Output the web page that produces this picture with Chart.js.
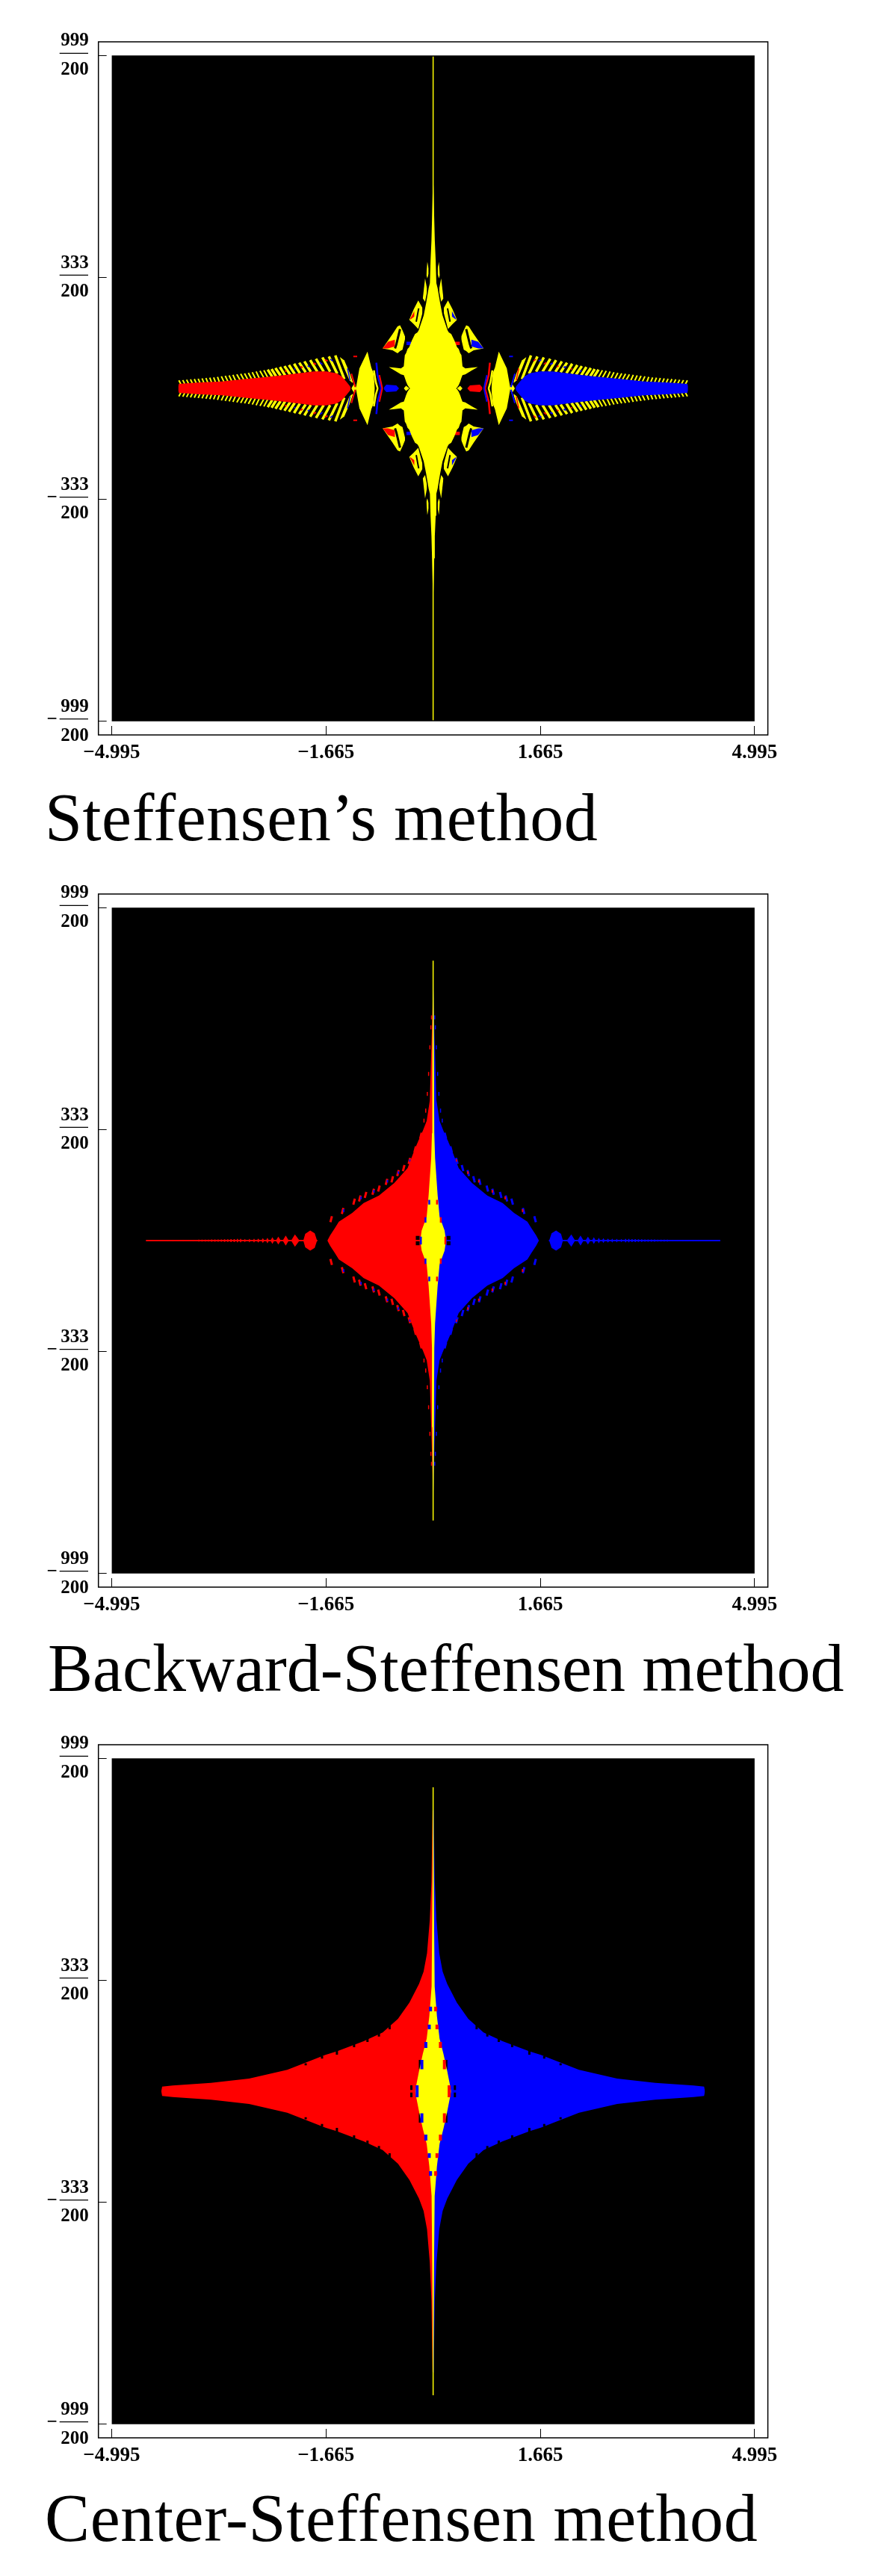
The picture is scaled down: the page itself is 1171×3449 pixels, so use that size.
<!DOCTYPE html>
<html>
<head>
<meta charset="utf-8">
<title>Steffensen basins</title>
<script src="https://cdn.jsdelivr.net/npm/chart.js@4"></script>
<style>
  html, body { margin: 0; background: #fff; }
  #page { position: relative; width: 1171px; height: 3449px; overflow: hidden; }
  canvas { position: absolute; left: 0; }
</style>
</head>
<body>
<div id="page"></div>
<script>
const red = "#ff0000";
const blue = "#0000ff";
const yellow = "#ffff00";
const black = "#000000";

const panelTitles = ["Steffensen’s method", "Backward-Steffensen method", "Center-Steffensen method"];
const xTickValues = [-4.995, -1.665, 1.665, 4.995];
const xTickLabels = ["−4.995", "−1.665", "1.665", "4.995"];
const yTickValues = [4.995, 1.665, -1.665, -4.995];
const yTickTop = ["999", "333", "333", "999"];
const yTickBottom = ["200", "200", "200", "200"];
const yTickMinus = [false, false, true, true];

const plotX = [-4.995, 4.995];
const plotTop = [4.995, 4.995];
const plotBottom = [-4.995, -4.995];

// Steffensen: upper left quadrant, the other three are mirrored
const steffLineEnd = 4.98;
const steffTearX = [-3.96, -3.95, -3.67, -3.28, -2.9, -2.59, -2.32, -2.04, -1.85, -1.66, -1.5, -1.42, -1.35, -1.29, -1.28];
const steffTearTop = [0.03, 0.067, 0.086, 0.104, 0.142, 0.172, 0.198, 0.232, 0.254, 0.254, 0.228, 0.18, 0.104, 0.03, 0];

const fineOuterX = [-3.95, -3.89, -3.83, -3.77, -3.71, -3.65, -3.59, -3.53, -3.47, -3.41, -3.35, -3.29, -3.23, -3.17, -3.11, -3.05, -2.99, -2.93, -2.87, -2.81, -2.75, -2.69, -2.63];
const fineOuterY = [0.12, 0.125, 0.13, 0.135, 0.14, 0.145, 0.15, 0.155, 0.16, 0.165, 0.172, 0.18, 0.187, 0.195, 0.203, 0.21, 0.218, 0.225, 0.233, 0.243, 0.253, 0.263, 0.272];
const fineInnerX = [-3.92, -3.86, -3.8, -3.74, -3.68, -3.62, -3.56, -3.5, -3.44, -3.38, -3.32, -3.25, -3.19, -3.13, -3.07, -3.0, -2.94, -2.88, -2.82, -2.76, -2.7, -2.63, -2.57];
const fineInnerY = [0.065, 0.07, 0.072, 0.075, 0.078, 0.08, 0.082, 0.085, 0.088, 0.09, 0.095, 0.1, 0.108, 0.112, 0.118, 0.125, 0.13, 0.135, 0.14, 0.145, 0.15, 0.16, 0.165];
const coarseOuterX = [-2.57, -2.51, -2.45, -2.38, -2.31, -2.24, -2.16, -2.08, -2.0, -1.91, -1.82, -1.72, -1.62, -1.52];
const coarseOuterY = [0.282, 0.29, 0.305, 0.32, 0.335, 0.35, 0.37, 0.385, 0.405, 0.425, 0.445, 0.465, 0.48, 0.495];
const coarseInnerX = [-2.5, -2.44, -2.37, -2.3, -2.22, -2.15, -2.07, -1.98, -1.9, -1.8, -1.7, -1.6, -1.49, -1.38];
const coarseInnerY = [0.175, 0.18, 0.19, 0.195, 0.205, 0.215, 0.225, 0.24, 0.248, 0.25, 0.25, 0.25, 0.22, 0.14];
const speckX0 = [-2.3, -2.06, -1.86, -1.68, -1.24, -1.27, -0.99];
const speckY0 = [0.27, 0.33, 0.38, 0.43, 0.48, 0.22, 0.2];
const speckX1 = [-2.28, -2.03, -1.82, -1.64, -1.18, -1.21, -1.0];
const speckY1 = [0.25, 0.31, 0.36, 0.41, 0.48, 0.02, 0.02];
const speckBlueX0 = [-2.16, -1.95, -1.76, -1.6, -1.33];
const speckBlueY0 = [0.3, 0.34, 0.39, 0.44, 0.3];
const speckBlueX1 = [-2.14, -1.92, -1.72, -1.56, -1.29];
const speckBlueY1 = [0.28, 0.32, 0.36, 0.41, 0.12];

const steffBodyX = [-0.689, -0.6, -0.5, -0.456, -0.44, -0.42, -0.398, -0.371, -0.33, -0.282, -0.243, -0.224, -0.146, -0.108, -0.069, -0.05, -0.04, -0.026, -0.017, -0.005, 0];
const steffBodyTop = [0.318, 0.31, 0.3, 0.33, 0.5, 0.53, 0.59, 0.62, 0.72, 0.815, 0.84, 0.871, 1.095, 1.282, 1.506, 1.581, 1.91, 2.22, 2.55, 3.04, 3.1];
const steffBodyBottom = [0.318, 0.27, 0.21, 0.198, 0.16, 0.1, 0.05, 0.011, -0.02, -0.02, -0.02, -0.02, -0.02, -0.02, -0.02, -0.02, -0.02, -0.02, -0.02, -0.02, -0.02];

const crescentX = [-1.2, -1.145, -1.02, -0.96, -0.925, -0.905];
const crescentTop = [0, 0.3, 0.553, 0.31, 0.228, 0];
const slashX = [-1.45, -1.38, -1.3, -1.25];
const slashTop = [0.47, 0.42, 0.24, 0.1];
const slashBottom = [0.47, 0.3, 0.12, 0.08];
const lensX = [-1.27, -1.22, -1.19];
const lensTop = [0, 0.08, 0];
const nibBlueX = [-0.766, -0.727, -0.572, -0.53];
const nibBlueTop = [0.01, 0.055, 0.045, 0];
const nibYellowX = [-0.456, -0.42, -0.37];
const nibYellowTop = [0, 0.04, 0];

const arcBlueX = [-0.882, -0.863, -0.805];
const arcBlueY = [0.385, 0.198, 0];
const arcYellowX = [-0.92, -0.89, -0.862];
const arcYellowY = [0.27, 0.09, 0];
const arcRedX = [-0.835, -0.79];
const arcRedY = [0.2, 0];

const wingOneX = [-0.785, -0.63, -0.553, -0.514, -0.476, -0.437];
const wingOneTop = [0.6, 0.815, 0.93, 0.946, 0.87, 0.78];
const wingOneBottom = [0.6, 0.572, 0.527, 0.56, 0.58, 0.74];
const wingOneGapX = [-0.514, -0.57, -0.592];
const wingOneGapY = [0.89, 0.665, 0.6];
const wingOneRedX = [-0.785, -0.7, -0.592];
const wingOneRedTop = [0.6, 0.7, 0.73];
const wingOneRedBottom = [0.6, 0.6, 0.63];
const wingOneBlueX = [-0.417, -0.34];
const wingOneBlueTop = [0.7, 0.7];
const wingOneBlueBottom = [0.65, 0.65];

const wingTwoX = [-0.371, -0.301, -0.231, -0.166];
const wingTwoTop = [1.028, 1.189, 1.319, 1.207];
const wingTwoBottom = [1.028, 0.964, 0.89, 1.133];
const wingTwoGapX = [-0.224, -0.263];
const wingTwoGapY = [1.2, 1.0];
const wingTwoRedX = [-0.36, -0.29];
const wingTwoRedTop = [1.04, 1.163];
const wingTwoRedBottom = [1.028, 1.08];

const wingThreeX = [-0.16, -0.125, -0.095];
const wingThreeTop = [1.35, 1.65, 1.5];
const wingThreeBottom = [1.35, 1.3, 1.45];
const wingFourX = [-0.105, -0.09, -0.07];
const wingFourTop = [1.7, 1.9, 1.8];
const wingFourBottom = [1.7, 1.65, 1.72];

// Backward-Steffensen
const backLineEnd = 4.2;
const backRedX = [-1.643, -1.6, -1.524, -1.465, -1.257, -1.08, -0.842, -0.605, -0.397, -0.279, -0.16, -0.1, -0.052, -0.026, -0.009, 0];
const backRedTop = [0, 0.078, 0.19, 0.284, 0.415, 0.564, 0.676, 0.863, 1.087, 1.386, 1.648, 1.797, 2.1, 2.93, 3.5, 4.2];
const backYellowX = [-0.2, -0.178, -0.1, -0.07, -0.03, -0.018, -0.012, -0.006, 0];
const backYellowTop = [0, 0.15, 0.36, 0.68, 1.24, 1.61, 2.8, 3.6, 4.2];
const backBeadX = [-2.942, -2.924, -2.906, -2.871, -2.853, -2.835, -2.8, -2.782, -2.764, -2.74, -2.716, -2.693, -2.669, -2.645, -2.622, -2.598, -2.574, -2.55, -2.527, -2.497, -2.467, -2.444, -2.405, -2.366, -2.337, -2.29, -2.242, -2.206, -2.147, -2.076, -2.017, -1.987, -1.91, -1.84, -1.803];
const backBeadTop = [0, 0.026, 0, 0, 0.028, 0, 0, 0.03, 0, 0, 0.032, 0, 0, 0.036, 0, 0, 0.042, 0, 0, 0.05, 0, 0, 0.06, 0, 0, 0.075, 0, 0, 0.093, 0, 0, 0.1, 0.15, 0.11, 0];
const backTickX = [-2.99, -3.04, -3.09, -3.14, -3.19, -3.24, -3.29, -3.34, -3.39, -3.44, -3.49, -3.54, -3.59, -3.64, -3.72, -3.8, -3.88, -3.96, -4.04, -4.12];
const backTickY = [0.024, 0.024, 0.022, 0.022, 0.02, 0.02, 0.018, 0.018, 0.016, 0.016, 0.015, 0.015, 0.014, 0.014, 0.012, 0.012, 0.012, 0.012, 0.012, 0.012];
const backAxisX = [-4.46, -1.8];
const backAxisY = [0, 0];
const backEdgeX = [-1.584, -1.406, -1.228, -1.139, -1.05, -0.931, -0.842, -0.724, -0.635, -0.546, -0.457, -0.368, -0.279, -0.219, -0.19];
const backEdgeY = [0.321, 0.445, 0.583, 0.632, 0.684, 0.732, 0.781, 0.882, 0.919, 1.012, 1.087, 1.196, 1.368, 1.461, 1.573];
const backEdgeTipX = [-0.142, -0.115, -0.09, -0.07, -0.05, -0.035, -0.025];
const backEdgeTipY = [1.8, 1.95, 2.2, 2.5, 2.9, 3.2, 3.35];
const backEdgeDotX = [-1.39, -1.12, -0.92, -0.71, -0.54, -0.36];
const backEdgeDotY = [0.45, 0.64, 0.74, 0.89, 1.02, 1.2];
const backDashX = [-0.19, -0.119, -0.06];
const backDashLow = [0, 0.27, 0.54];
const backDashHigh = [0.06, 0.35, 0.61];
const backSpotX = [-0.24];
const backSpotLow = [0.01];
const backSpotHigh = [0.07];

// Center-Steffensen
const centerLineEnd = 4.56;
const centerRedX = [-4.223, -4.21, -4.045, -3.452, -2.859, -2.266, -1.969, -1.673, -1.495, -1.08, -0.783, -0.546, -0.368, -0.219, -0.148, -0.095, -0.052, -0.026, -0.009, 0];
const centerRedTop = [0, 0.07, 0.086, 0.127, 0.19, 0.321, 0.433, 0.546, 0.6, 0.751, 0.882, 1.087, 1.33, 1.61, 1.797, 2.07, 2.57, 3.14, 4.21, 4.25];
const centerYellowX = [-0.279, -0.26, -0.219, -0.16, -0.1, -0.059, -0.024, -0.014, -0.006, 0];
const centerYellowTop = [0, 0.1, 0.303, 0.564, 0.79, 1.125, 1.573, 2.6, 3.6, 4.56];
const centerNotchX = [-1.495, -1.228, -1.02, -0.842, -0.676, -1.726, -1.98, -0.338, -0.205];
const centerNotchLow = [0.55, 0.66, 0.74, 0.82, 0.93, 0.49, 0.39, 0.02, 0.33];
const centerNotchHigh = [0.64, 0.71, 0.8, 0.88, 0.99, 0.53, 0.42, 0.09, 0.47];
const centerDashX = [-0.249, -0.175, -0.113, -0.06, -0.04];
const centerDashLow = [0, 0.33, 0.65, 0.93, 1.2];
const centerDashHigh = [0.09, 0.47, 0.74, 1.0, 1.27];

const swapColor = { [red]: blue, [blue]: red, [yellow]: yellow, [black]: black };
const mirrors = [[1, 1], [1, -1], [-1, 1], [-1, -1]];

// closed area between two edges that share their x values
function pushArea(sets, upper, lower, color) {
  sets.push({ data: upper, fill: "+1", backgroundColor: color, borderWidth: 0, order: -sets.length });
  sets.push({ data: lower, fill: false, borderWidth: 0, order: -sets.length });
}

function addArea(sets, xs, tops, bottoms, color) {
  mirrors.forEach(([sx, sy]) => {
    const c = sx < 0 ? swapColor[color] : color;
    if (!bottoms && sy < 0) return;
    let upper = xs.map((x, i) => ({ x: x * sx, y: tops[i] * sy }));
    let lower = xs.map((x, i) => ({ x: x * sx, y: (bottoms ? bottoms[i] : -tops[i]) * sy }));
    if (sx < 0) {
      upper = upper.reverse();
      lower = lower.reverse();
    }
    pushArea(sets, upper, lower, c);
  });
}

function addPath(sets, xs, ys, color, width) {
  mirrors.forEach(([sx, sy]) => {
    const c = sx < 0 ? swapColor[color] : color;
    sets.push({
      data: xs.map((x, i) => ({ x: x * sx, y: ys[i] * sy })),
      borderColor: c, borderWidth: width, fill: false, order: -sets.length,
    });
  });
}

// separate short strokes, NaN points break the line between them
function addStrokes(sets, x0, y0, x1, y1, color, width) {
  mirrors.forEach(([sx, sy]) => {
    const c = sx < 0 ? swapColor[color] : color;
    const data = [];
    x0.forEach((x, i) => {
      data.push({ x: x * sx, y: y0[i] * sy }, { x: x1[i] * sx, y: y1[i] * sy }, { x: NaN, y: NaN });
    });
    sets.push({ data, borderColor: c, borderWidth: width, fill: false, order: -sets.length });
  });
}

function addCenterLine(sets, end) {
  sets.push({
    data: [{ x: 0, y: end }, { x: 0, y: -end }],
    borderColor: yellow, borderWidth: 1.5, fill: false, order: -sets.length,
  });
}

function baseSets() {
  const sets = [];
  pushArea(sets, plotX.map((x, i) => ({ x, y: plotTop[i] })), plotX.map((x, i) => ({ x, y: plotBottom[i] })), black);
  return sets;
}

function steffensenSets() {
  const s = baseSets();
  addStrokes(s, fineOuterX, fineOuterY, fineInnerX, fineInnerY, yellow, 2);
  addStrokes(s, coarseOuterX, coarseOuterY, coarseInnerX, coarseInnerY, yellow, 3.5);
  addArea(s, steffTearX, steffTearTop, null, red);
  addArea(s, slashX, slashTop, slashBottom, yellow);
  addArea(s, lensX, lensTop, null, yellow);
  addStrokes(s, speckX0, speckY0, speckX1, speckY1, red, 2);
  addStrokes(s, speckBlueX0, speckBlueY0, speckBlueX1, speckBlueY1, blue, 1.5);
  addArea(s, crescentX, crescentTop, null, yellow);
  addPath(s, arcYellowX, arcYellowY, yellow, 2.5);
  addPath(s, arcBlueX, arcBlueY, blue, 2.5);
  addPath(s, arcRedX, arcRedY, red, 2);
  addArea(s, nibBlueX, nibBlueTop, null, blue);
  addArea(s, nibYellowX, nibYellowTop, null, yellow);
  addArea(s, wingOneX, wingOneTop, wingOneBottom, yellow);
  addPath(s, wingOneGapX, wingOneGapY, black, 3);
  addArea(s, wingOneRedX, wingOneRedTop, wingOneRedBottom, red);
  addArea(s, wingOneBlueX, wingOneBlueTop, wingOneBlueBottom, blue);
  addArea(s, wingTwoX, wingTwoTop, wingTwoBottom, yellow);
  addPath(s, wingTwoGapX, wingTwoGapY, black, 2);
  addArea(s, wingTwoRedX, wingTwoRedTop, wingTwoRedBottom, red);
  addArea(s, wingThreeX, wingThreeTop, wingThreeBottom, yellow);
  addArea(s, wingFourX, wingFourTop, wingFourBottom, yellow);
  addArea(s, steffBodyX, steffBodyTop, steffBodyBottom, yellow);
  addCenterLine(s, steffLineEnd);
  return s;
}

function backwardSets() {
  const s = baseSets();
  addPath(s, backAxisX, backAxisY, red, 1.5);
  addStrokes(s, backTickX, backTickY.map(() => 0), backTickX, backTickY, red, 1.5);
  addArea(s, backBeadX, backBeadTop, null, red);
  addStrokes(s, backEdgeX.map((x) => x - 0.012), backEdgeY.map((y) => y - 0.045), backEdgeX.map((x) => x + 0.012), backEdgeY.map((y) => y + 0.045), red, 3);
  addStrokes(s, backEdgeTipX, backEdgeTipY.map((y) => y - 0.03), backEdgeTipX, backEdgeTipY.map((y) => y + 0.03), red, 1.5);
  addStrokes(s, backEdgeDotX, backEdgeDotY.map((y) => y - 0.02), backEdgeDotX, backEdgeDotY.map((y) => y + 0.02), blue, 2);
  addArea(s, backRedX, backRedTop, null, red);
  addStrokes(s, backSpotX, backSpotLow, backSpotX, backSpotHigh, black, 5);
  addArea(s, backYellowX, backYellowTop, null, yellow);
  addStrokes(s, backDashX, backDashLow, backDashX, backDashHigh, blue, 2.5);
  addCenterLine(s, backLineEnd);
  return s;
}

function centerSets() {
  const s = baseSets();
  addArea(s, centerRedX, centerRedTop, null, red);
  addStrokes(s, centerNotchX, centerNotchLow, centerNotchX, centerNotchHigh, black, 3);
  addArea(s, centerYellowX, centerYellowTop, null, yellow);
  addStrokes(s, centerDashX, centerDashLow, centerDashX, centerDashHigh, blue, 4);
  addCenterLine(s, centerLineEnd);
  return s;
}

const labelFont = { family: "'Liberation Serif'", size: 27, weight: "bold" };
const titleLeft = [60, 64, 60];
const titleBelow = [141, 139, 138];
const titleSpacing = ["0.5px", "0px", "0.65px"];

const framePlugin = {
  id: "frame",
  afterDraw(chart, args, opts) {
    const { ctx, chartArea: a, scales } = chart;
    ctx.save();
    ctx.strokeStyle = black;
    ctx.lineWidth = 1.5;
    ctx.strokeRect(a.left, a.top, a.right - a.left, a.bottom - a.top);
    // fraction bars and minus signs of the y tick labels
    ctx.lineWidth = 1.3;
    ctx.fillStyle = black;
    ctx.font = "bold 25px 'Liberation Serif'";
    ctx.textAlign = "center";
    ctx.textBaseline = "middle";
    yTickValues.forEach((v, i) => {
      const y = scales.y.getPixelForValue(v) - 3;
      ctx.beginPath();
      ctx.moveTo(a.left - 52, y);
      ctx.lineTo(a.left - 13.7, y);
      ctx.stroke();
      if (yTickMinus[i]) ctx.fillText("−", a.left - 62, y + 1);
    });
    // panel caption
    const i = opts.index;
    ctx.font = "90px 'Liberation Serif'";
    ctx.textAlign = "left";
    ctx.textBaseline = "alphabetic";
    ctx.letterSpacing = titleSpacing[i];
    ctx.fillText(panelTitles[i], titleLeft[i], a.bottom + titleBelow[i]);
    ctx.restore();
  },
};

function makeChart(index, datasets, top) {
  const canvas = document.createElement("canvas");
  canvas.width = 1171;
  canvas.height = 1160;
  canvas.style.top = top + "px";
  document.getElementById("page").appendChild(canvas);
  return new Chart(canvas, {
    type: "line",
    data: { datasets },
    plugins: [framePlugin],
    options: {
      responsive: false,
      animation: false,
      events: [],
      layout: { padding: { left: 60, right: 143.4, top: 56, bottom: 126 } },
      elements: { point: { radius: 0 }, line: { tension: 0 } },
      plugins: {
        legend: { display: false },
        tooltip: { enabled: false },
        title: { display: false },
        frame: { index },
      },
      scales: {
        x: {
          type: "linear",
          min: -5.2,
          max: 5.2,
          afterBuildTicks: (s) => { s.ticks = xTickValues.map((value) => ({ value })); },
          afterFit: (s) => { s.height = 50; s.paddingLeft = 0; s.paddingRight = 0; },
          border: { display: false },
          grid: { drawOnChartArea: false, tickLength: -12, tickColor: black, tickWidth: 1 },
          ticks: {
            autoSkip: false, maxRotation: 0, color: black, font: labelFont, padding: 20,
            callback: (v, i) => xTickLabels[i],
          },
        },
        y: {
          type: "linear",
          min: -5.2,
          max: 5.2,
          afterBuildTicks: (s) => { s.ticks = yTickValues.map((value) => ({ value })); },
          afterFit: (s) => { s.width = 71.7; s.paddingTop = 0; s.paddingBottom = 0; },
          border: { display: false },
          grid: { drawOnChartArea: false, tickLength: -11, tickColor: black, tickWidth: 1 },
          ticks: {
            autoSkip: false, color: black, padding: 24,
            font: { family: "'Liberation Serif'", size: 25, weight: "bold", lineHeight: 1.55 },
            callback: (v, i) => [yTickTop[i], yTickBottom[i]],
          },
        },
      },
    },
  });
}

makeChart(0, steffensenSets(), 0);
makeChart(1, backwardSets(), 1141);
makeChart(2, centerSets(), 2280);
</script>
</body>
</html>
